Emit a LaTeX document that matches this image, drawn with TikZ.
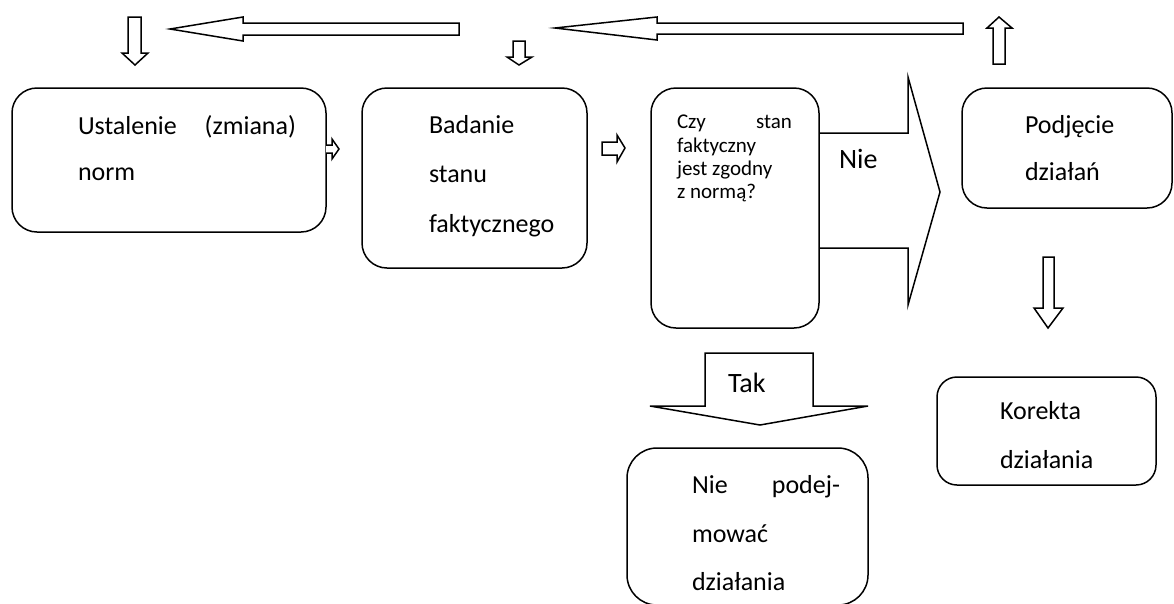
\documentclass[tikz,border=0pt]{standalone}
\usepackage{fontspec}
\setmainfont{Carlito}
\begin{document}
\begin{tikzpicture}[x=1pt,y=-1pt,
  box/.style={draw, line width=1.5pt, rounded corners=25pt, inner sep=0pt, outer sep=0pt, anchor=north west},
  blk/.style={draw, line width=1.5pt, fill=white, line join=miter},
  txt/.style={anchor=base west, inner sep=0pt, outer sep=0pt, font=\fontsize{26}{30}\selectfont},
  smalltxt/.style={anchor=base west, inner sep=0pt, outer sep=0pt, font=\fontsize{21}{24}\selectfont},
  bigtxt/.style={anchor=base west, inner sep=0pt, outer sep=0pt, font=\fontsize{28}{32}\selectfont}]
\useasboundingbox (0,0) rectangle (1174,603);
\clip (0,0) rectangle (1174,603);

% boxes
\node[box, minimum width=314pt, minimum height=144pt] (b1) at (12,88) {};
\node[box, minimum width=225pt, minimum height=180pt] (b2) at (362,88) {};
\node[box, minimum width=168pt, minimum height=240pt] (b3) at (651,88) {};
\node[box, minimum width=210pt, minimum height=120pt] (b4) at (962,88) {};
\node[box, rounded corners=20pt, minimum width=219pt, minimum height=108pt] (b5) at (937,377) {};
\node[box, rounded corners=30pt, minimum width=241pt, minimum height=157pt] (b6) at (627,448) {};

% texts
\node[txt] (t1a) at (78,134) {\hbox to 218pt{Ustalenie\hfill(zmiana)}};
\node[txt] (t1b) at (78,180) {norm};
\node[txt] (t2a) at (429,133) {Badanie};
\node[txt] (t2b) at (429,182) {stanu};
\node[txt] (t2c) at (429,232) {faktycznego};
\node[smalltxt] (t3a) at (677,128) {\hbox to 115pt{Czy\hfill stan}};
\node[smalltxt] (t3b) at (677,152) {faktyczny};
\node[smalltxt] (t3c) at (677,175) {jest zgodny};
\node[smalltxt] (t3d) at (677,198) {z normą?};
\node[txt] (t4a) at (1025,133) {Podjęcie};
\node[txt] (t4b) at (1025,180) {działań};
\node[txt] (t5a) at (1000,419) {Korekta};
\node[txt] (t5b) at (1000,468) {działania};
\node[txt] (t6a) at (692,493) {\hbox to 148pt{Nie\hfill podej-}};
\node[txt] (t6b) at (692,542) {mować};
\node[txt] (t6c) at (692,590) {działania};

% block arrows
\draw[blk] (170,29) -- (243,17) -- (243,23) -- (459,23) -- (459,35) -- (243,35) -- (243,41) -- cycle;
\draw[blk] (555,28) -- (657,17) -- (657,23) -- (963,23) -- (963,34) -- (657,34) -- (657,40) -- cycle;
\draw[blk] (128,17) -- (141,17) -- (141,53) -- (148,53) -- (135,65) -- (122,53) -- (128,53) -- cycle;
\draw[blk] (513,41) -- (525,41) -- (525,57) -- (532,57) -- (519,65) -- (507,57) -- (513,57) -- cycle;
\draw[blk] (993,64) -- (1005,64) -- (1005,28) -- (1012,28) -- (999,17) -- (987,28) -- (993,28) -- cycle;
\draw[blk] (1043,257) -- (1054,257) -- (1054,308) -- (1063,308) -- (1048,328) -- (1034,308) -- (1043,308) -- cycle;
\draw[blk] (326,145) -- (332,145) -- (332,139) -- (339,149) -- (332,159) -- (332,153) -- (326,153);
\draw[blk] (602,142) -- (617,142) -- (617,135) -- (625,148) -- (617,162) -- (617,155) -- (602,155) -- cycle;
% Nie arrow
\draw[blk, fill=none] (b3.east |- 0,133) -- (908,133) -- (908,77) -- (940,192) -- (908,305) -- (908,248) -- (b3.east |- 0,248);
\node[bigtxt] (nie) at (839,168) {Nie};
% Tak arrow
\draw[blk] (705,353) -- (813,353) -- (813,406) -- (868,406) -- (760,425) -- (650,406) -- (705,406) -- cycle;
\node[bigtxt] (tak) at (728,392) {Tak};
\end{tikzpicture}
\end{document}
